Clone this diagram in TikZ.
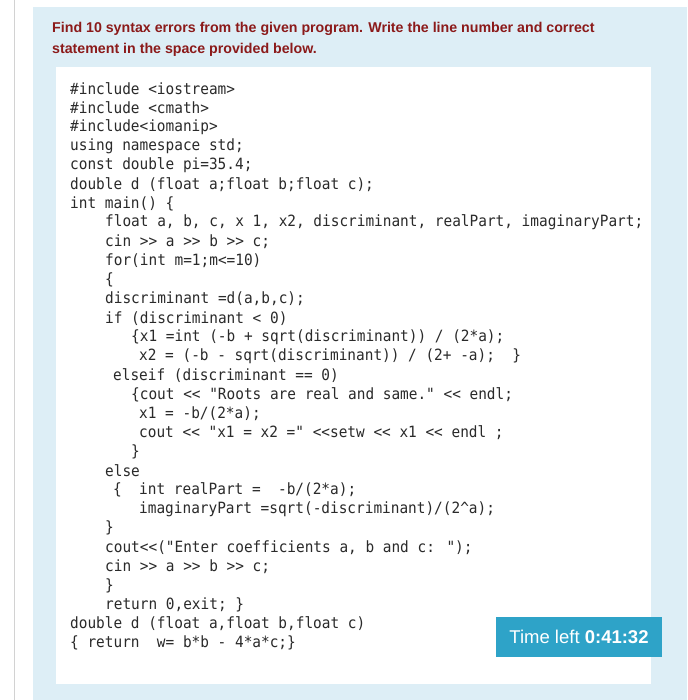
\documentclass[tikz,border=0pt]{standalone}
\usepackage{fontspec}
\newfontfamily\codefont[FakeStretch=0.93]{DejaVu Sans Mono}
\newfontfamily\titlefont{Liberation Sans}
\definecolor{panel}{HTML}{DDEEF6}
\definecolor{titlered}{HTML}{8B1A1A}
\definecolor{timer}{HTML}{2EA3C8}
\definecolor{codetxt}{HTML}{2A2A2A}
\begin{document}
\begin{tikzpicture}[x=1pt,y=-1pt,
  code/.style={anchor=west,inner sep=0pt,font=\codefont\fontsize{15.5}{18}\selectfont,text=codetxt},
  ttl/.style={anchor=west,inner sep=0pt,font=\titlefont\bfseries\fontsize{14.2}{16}\selectfont,text=titlered}]
\useasboundingbox (0,0) rectangle (687,700);
\fill[white] (0,0) rectangle (687,700);
\fill[gray!35] (13.6,0) rectangle (14.4,700);
\fill[panel] (33,7) rectangle (687,700);
\fill[white] (56,67) rectangle (651,684);
\node[ttl] (t1) at (52,29) {Find 10 syntax errors from the given program. Write the line number and correct};
\node[ttl] (t2) at (52,50) {statement in the space provided below.};
\node[code] (l1) at (70,89.0) {\#include <iostream>};
\node[code] (l2) at (70,108.1) {\#include <cmath>};
\node[code] (l3) at (70,127.2) {\#include<iomanip>};
\node[code] (l4) at (70,146.3) {using namespace std;};
\node[code] (l5) at (70,165.4) {const double pi=35.4;};
\node[code] (l6) at (70,184.5) {double d (float a;float b;float c);};
\node[code] (l7) at (70,203.6) {int main() \{};
\node[code] (l8) at (105,222.7) {float a, b, c, x 1, x2, discriminant, realPart, imaginaryPart;};
\node[code] (l9) at (105,241.8) {cin >> a >> b >> c;};
\node[code] (l10) at (105,260.9) {for(int m=1;m<=10)};
\node[code] (l11) at (105,280.0) {\{};
\node[code] (l12) at (105,299.1) {discriminant =d(a,b,c);};
\node[code] (l13) at (105,318.2) {if (discriminant < 0)};
\node[code] (l14) at (131,337.3) {\{x1 =int (-b + sqrt(discriminant)) / (2*a);};
\node[code] (l15) at (139,356.4) {x2 = (-b - sqrt(discriminant)) / (2+ -a);\ \ \}};
\node[code] (l16) at (113,375.5) {elseif (discriminant == 0)};
\node[code] (l17) at (131,394.6) {\{cout << "Roots are real and same." << endl;};
\node[code] (l18) at (139,413.7) {x1 = -b/(2*a);};
\node[code] (l19) at (139,432.8) {cout << "x1 = x2 =" <<setw << x1 << endl ;};
\node[code] (l20) at (131,451.9) {\}};
\node[code] (l21) at (105,471.0) {else};
\node[code] (l22) at (113,490.1) {\{\ \ int realPart =\ \ -b/(2*a);};
\node[code] (l23) at (139,509.2) {imaginaryPart =sqrt(-discriminant)/(2\textasciicircum a);};
\node[code] (l24) at (105,528.3) {\}};
\node[code] (l25) at (105,547.4) {cout<<("Enter coefficients a, b and c: ");};
\node[code] (l26) at (105,566.5) {cin >> a >> b >> c;};
\node[code] (l27) at (105,585.6) {\}};
\node[code] (l28) at (105,604.7) {return 0,exit; \}};
\node[code] (l29) at (70,623.8) {double d (float a,float b,float c)};
\node[code] (l30) at (70,642.9) {\{ return\ \ w= b*b - 4*a*c;\}};
\fill[timer] (496,617) rectangle (662,657);
\node[anchor=center,inner sep=0pt,text=white,font=\titlefont\fontsize{18.5}{20}\selectfont] (tm) at (579,637) {Time left \textbf{0:41:32}};
\end{tikzpicture}
\end{document}
